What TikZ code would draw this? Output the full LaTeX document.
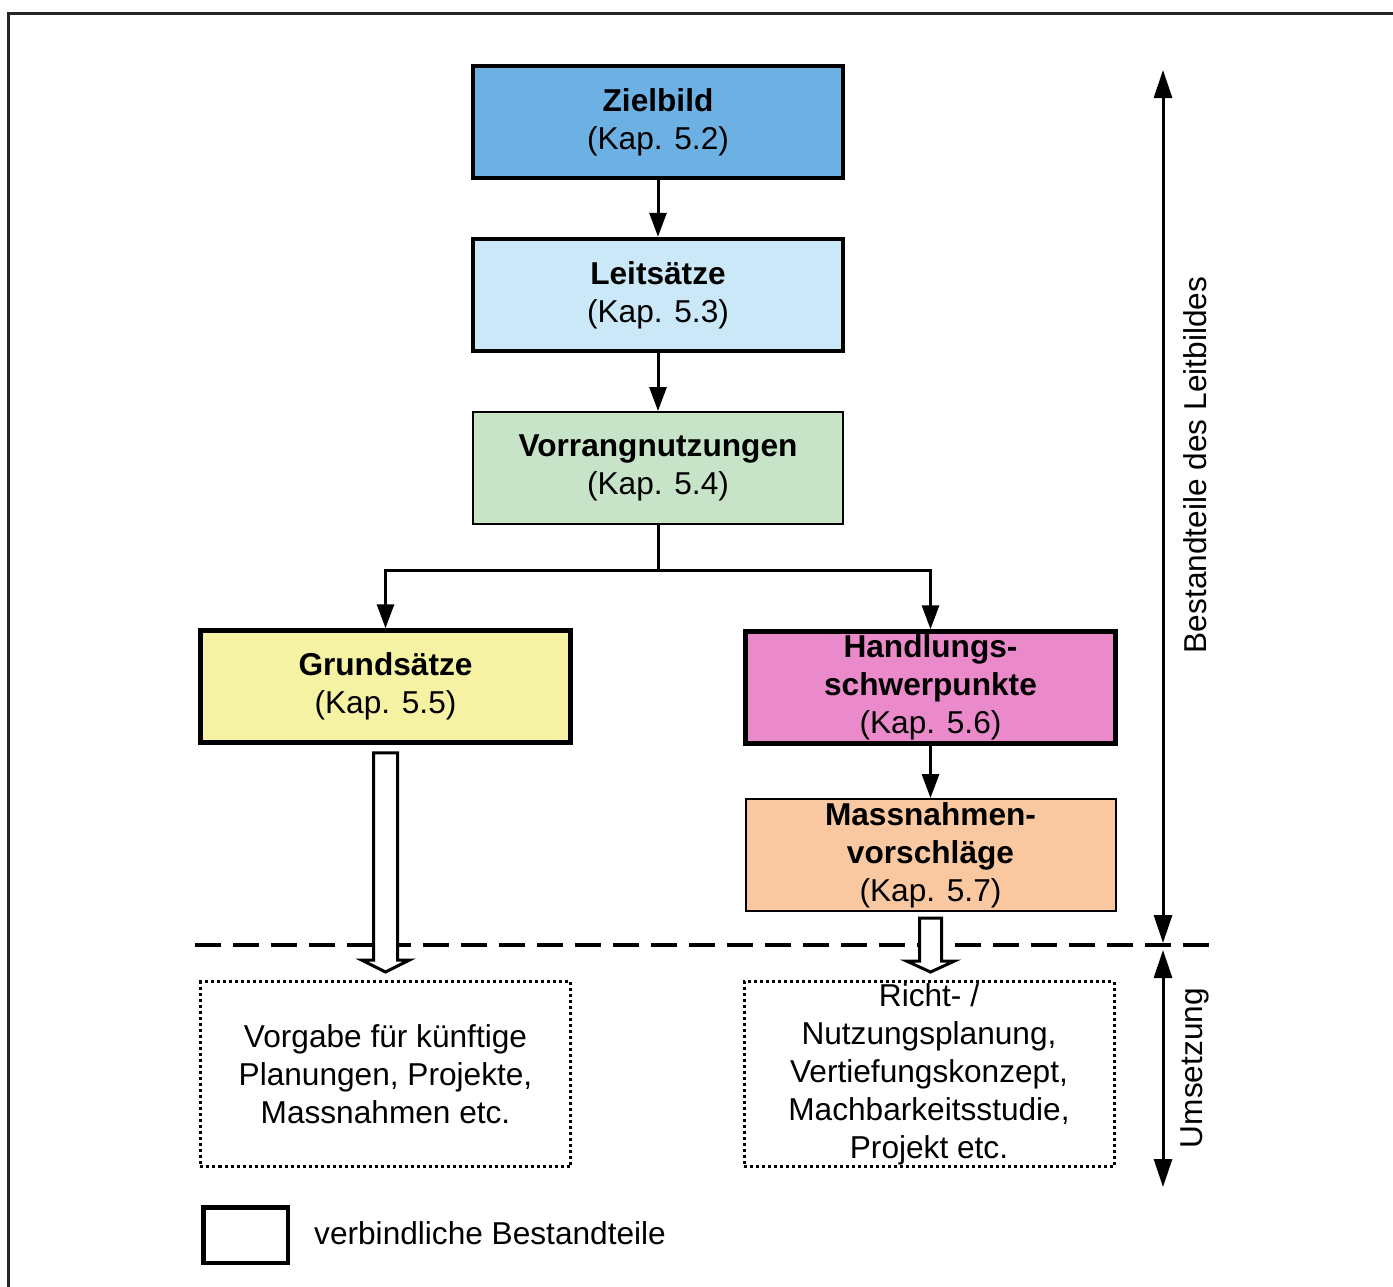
\documentclass[tikz,border=0pt]{standalone}
\usepackage{fontspec}
\setmainfont{Liberation Sans}
\usetikzlibrary{arrows.meta,calc}
\definecolor{zielblue}  {RGB}{108,176,228}
\definecolor{leitblue}  {RGB}{202,232,248}
\definecolor{vorrgreen} {RGB}{200,228,200}
\definecolor{grundyel}  {RGB}{246,242,164}
\definecolor{handlpink} {RGB}{234,138,202}
\definecolor{massorange}{RGB}{249,200,160}

\begin{document}
\begin{tikzpicture}[
  x=0.2mm,y=-0.2mm,
  every node/.style={font=\fontsize{18}{21.6}\selectfont},
  kbox/.style={draw=black,line width=0.9mm,minimum width=74mm,minimum height=22.4mm,
               align=center,inner sep=0pt},
  tbox/.style={kbox,line width=0.4mm},
  obox/.style={draw=black,line width=0.6mm,dash pattern=on 0.6mm off 0.6mm,
               minimum width=74mm,minimum height=37mm,align=center,inner sep=0pt},
  arr/.style={-{Triangle[length=4.8mm,width=3.4mm]},line width=0.6mm},
  darr/.style={{Triangle[length=5.6mm,width=3.6mm]}-{Triangle[length=5.6mm,width=3.6mm]},
               line width=0.6mm},
  sepline/.style={line width=0.8mm,dash pattern=on 5.2mm off 2.4mm},
  hollow/.style={draw=black,line width=0.6mm,fill=white,line join=miter},
]
\useasboundingbox (0,0) rectangle (1393,1286);

%% ── Frame ─────────────────────────────────────────────────────────────────
\draw[line width=0.6mm,black!85] (8,1300) -- (8,13) -- (1400,13);

%% ── Leitbild ──────────────────────────────────────────────────────────────
\node[kbox,fill=zielblue] (ziel) at (658,122) {\textbf{Zielbild}\\(Kap. 5.2)};
\node[kbox,fill=leitblue] (leit) at (658,295) {\textbf{Leitsätze}\\(Kap. 5.3)};
\node[tbox,fill=vorrgreen] (vorr) at (658,468) {\textbf{Vorrangnutzungen}\\(Kap. 5.4)};

%% ── Grundsätze / Handlungsschwerpunkte ───────────────────────────────────
\node[kbox,fill=grundyel] (grund) at (385.5,686.5) {\textbf{Grundsätze}\\(Kap. 5.5)};
\node[kbox,fill=handlpink] (handl) at (930.5,687.5)
  {\textbf{Handlungs-}\\\textbf{schwerpunkte}\\(Kap. 5.6)};
\node[tbox,fill=massorange] (mass) at (930.5,855)
  {\textbf{Massnahmen-}\\\textbf{vorschläge}\\(Kap. 5.7)};

%% ── Umsetzung ─────────────────────────────────────────────────────────────
\node[obox] (vorg) at (385.5,1074)
  {Vorgabe für künftige\\Planungen, Projekte,\\Massnahmen etc.};
\node[obox] (richt) at (929,1074)
  {Richt- /\\Nutzungsplanung,\\Vertiefungskonzept,\\Machbarkeitsstudie,\\Projekt etc.};

%% ── Connections ──────────────────────────────────────────────────────────
\draw[arr] (ziel.south) -- (leit.north);
\draw[arr] (leit.south) -- (vorr.north);
\draw[arr] (vorr.south) -- ++(0,45) -| (grund.north);
\draw[arr] (vorr.south) -- ++(0,45) -| (handl.north);
\draw[arr] (handl.south) -- (mass.north);

%% separation line
\coordinate (sepl) at (195,945);
\coordinate (sepr) at (1218,945);
\draw[sepline] (sepl) -- (sepr);

%% block arrows into the implementation boxes
\draw[hollow] ($(grund.south)+(-12,8)$) -- ($(vorg.north)+(-12,-20)$) -- ++(-12,0)
  -- ($(vorg.north)+(0,-8)$) -- ($(vorg.north)+(24,-20)$) -- ++(-12,0)
  -- ($(grund.south)+(12,8)$) -- cycle;
\coordinate (rtip) at (mass.south |- richt.north);
\draw[hollow] ($(mass.south)+(-11,6)$) -- ($(rtip)+(-11,-19)$) -- ++(-13,0)
  -- ($(rtip)+(0,-8)$) -- ($(rtip)+(24,-19)$) -- ++(-13,0)
  -- ($(mass.south)+(11,6)$) -- cycle;

%% ── Side dimensions ──────────────────────────────────────────────────────
\coordinate (dtop) at (1163,70);
\coordinate (dmida) at (1163,943);
\coordinate (dmidb) at (1163,950);
\coordinate (dbot) at (1163,1187);
\draw[darr] (dtop) -- (dmida);
\draw[darr] (dmidb) -- (dbot);
\node[rotate=90] (lbild) at (1195,465) {Bestandteile des Leitbildes};
\node[rotate=90] (umsetz) at (1195,1068) {Umsetzung};

%% ── Legend ───────────────────────────────────────────────────────────────
\node[kbox,minimum width=16.9mm,minimum height=11.1mm] (leg) at (245.5,1235) {};
\node[anchor=west] (legtxt) at (308,1233) {verbindliche Bestandteile};

\end{tikzpicture}
\end{document}
